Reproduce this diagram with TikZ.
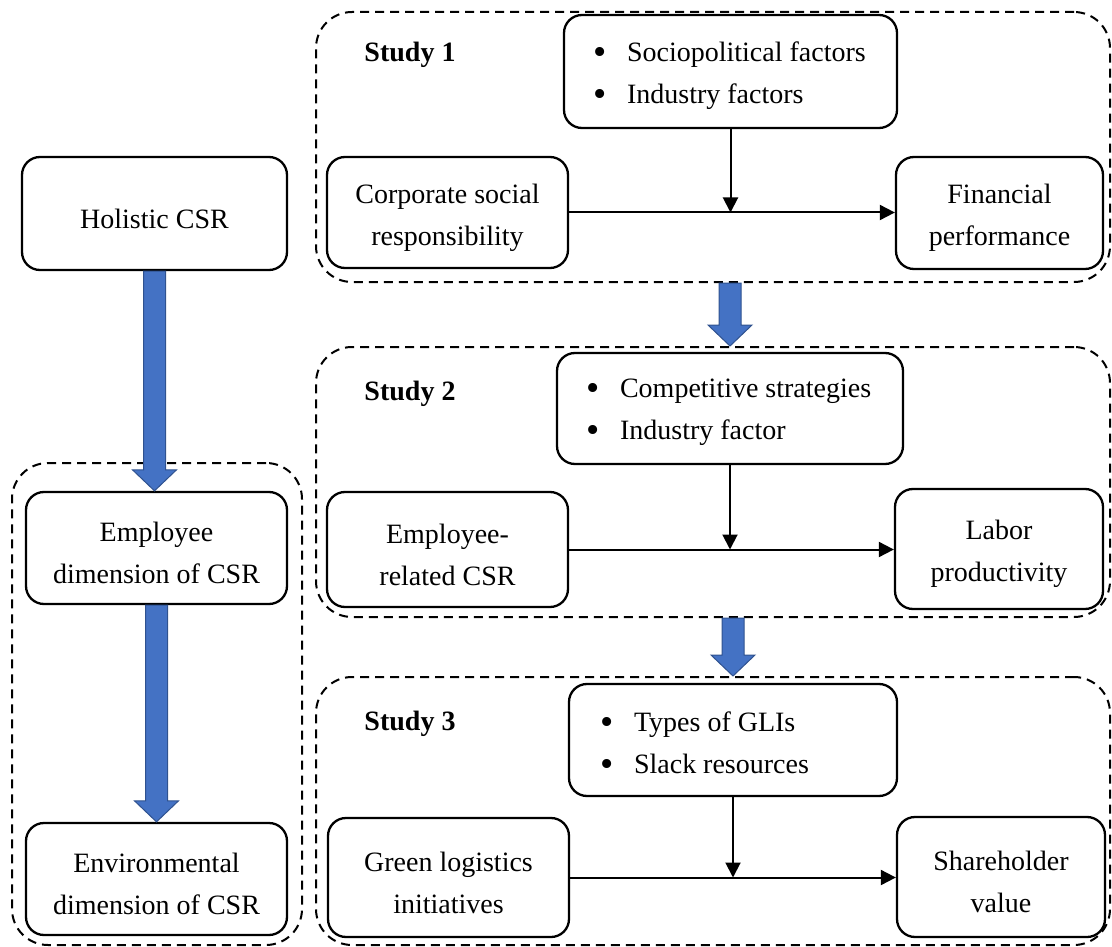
\documentclass[tikz,border=0pt]{standalone}
\usepackage{fontspec}
\usepackage{graphicx}
\setmainfont{Liberation Serif}
\usetikzlibrary{calc,arrows.meta}
\definecolor{arrowblue}{HTML}{4472C4}
\definecolor{arrowedge}{HTML}{2F528F}
\newcommand\bul{\makebox[34pt][l]{\raisebox{-3pt}{\scalebox{1.35}{\textbullet}}}}
\newcommand\blockarrow[2]{%
  \path[blockarr] let \p1=(#1), \p2=(#2) in
  ({\x1-11pt},\y1) -- ({\x1+11pt},\y1) -- ({\x1+11pt},{\y2+21pt}) --
  ({\x1+22pt},{\y2+21pt}) -- (\x1,\y2) -- ({\x1-22pt},{\y2+21pt}) --
  ({\x1-11pt},{\y2+21pt}) -- cycle;}
\tikzset{
  box/.style={draw, line width=2.3pt, rounded corners=18pt, inner sep=0pt},
  boxtext/.style={align=center, inner sep=0pt, yshift=-5pt,
    font=\fontsize{28}{42}\selectfont},
  listtext/.style={align=left, inner sep=0pt, anchor=west,
    font=\fontsize{28}{42}\selectfont},
  dashbox/.style={draw, line width=2pt, dash pattern=on 9pt off 6pt,
    rounded corners=36pt, inner sep=0pt},
  studylabel/.style={font=\fontsize{28}{34}\selectfont\bfseries, inner sep=0pt},
  conn/.style={line width=2pt, -{Triangle[length=15pt,width=15pt]}},
  blockarr/.style={fill=arrowblue, draw=arrowedge, line width=1pt}
}
\begin{document}
\begin{tikzpicture}[x=1pt,y=-1pt]
\useasboundingbox (0,0) rectangle (1112,947);
% left column
\node[box, minimum width=265pt, minimum height=113pt,
  label={[boxtext]center:Holistic CSR}] (hol) at (154.5,213.5) {};
\node[box, minimum width=261pt, minimum height=112pt,
  label={[boxtext]center:Employee\\dimension of CSR}] (emp) at (156.5,548) {};
\node[box, minimum width=261pt, minimum height=112pt,
  label={[boxtext]center:Environmental\\dimension of CSR}] (env) at (156.5,879) {};
% study 1
\node[box, minimum width=333pt, minimum height=113pt] (f1) at (730.5,71.5) {};
\node[listtext] (f1t) at ($(f1.west)+(30,4.5)$) {\bul Sociopolitical factors\\\bul Industry factors};
\node[box, minimum width=241pt, minimum height=111pt,
  label={[boxtext]center:Corporate social\\responsibility}] (csr) at (447.5,212.5) {};
\node[box, minimum width=207pt, minimum height=112pt,
  label={[boxtext]center:Financial\\performance}] (fin) at (999.5,213) {};
\node[studylabel] (l1) at (410,55) {Study 1};
% study 2
\node[box, minimum width=346pt, minimum height=111pt] (f2) at (730,408.5) {};
\node[listtext] (f2t) at ($(f2.west)+(30,4)$) {\bul Competitive strategies\\\bul Industry factor};
\node[box, minimum width=241pt, minimum height=115pt,
  label={[boxtext]center:Employee-\\related CSR}] (erc) at (447.5,549.5) {};
\node[box, minimum width=208pt, minimum height=120pt,
  label={[boxtext]center:Labor\\productivity}] (lab) at (999,549) {};
\node[studylabel] (l2) at (410,394) {Study 2};
% study 3
\node[box, minimum width=328pt, minimum height=112pt] (f3) at (733,740) {};
\node[listtext] (f3t) at ($(f3.west)+(32,4)$) {\bul Types of GLIs\\\bul Slack resources};
\node[box, minimum width=241pt, minimum height=119pt,
  label={[boxtext]center:Green logistics\\initiatives}] (gli) at (448.5,877.5) {};
\node[box, minimum width=208pt, minimum height=120pt,
  label={[boxtext]center:Shareholder\\value}] (sha) at (1001,877) {};
\node[studylabel] (l3) at (410,724) {Study 3};
% dashed groups
\node[dashbox, minimum width=290pt, minimum height=482pt] (grp) at (157,704) {};
\node[dashbox, minimum width=794pt, minimum height=270pt] (s1) at (713,147) {};
\node[dashbox, minimum width=794pt, minimum height=270pt] (s2) at (713,482) {};
\node[dashbox, minimum width=794pt, minimum height=268pt] (s3) at (713,811) {};
% connectors
\draw[conn] (csr.east) -- (csr.east -| fin.west);
\draw[conn] (f1.south) -- (f1.south |- csr.east);
\draw[conn] (erc.east) -- (erc.east -| lab.west);
\draw[conn] (f2.south) -- (f2.south |- erc.east);
\draw[conn] (gli.east) -- (gli.east -| sha.west);
\draw[conn] (f3.south) -- (f3.south |- gli.east);
% block arrows
\blockarrow{hol.south}{emp.north}
\blockarrow{emp.south}{env.north}
\blockarrow{s1.south -| f2.south}{s2.north -| f2.south}
\blockarrow{s2.south -| f3.south}{s3.north -| f3.south}
\end{tikzpicture}
\end{document}
